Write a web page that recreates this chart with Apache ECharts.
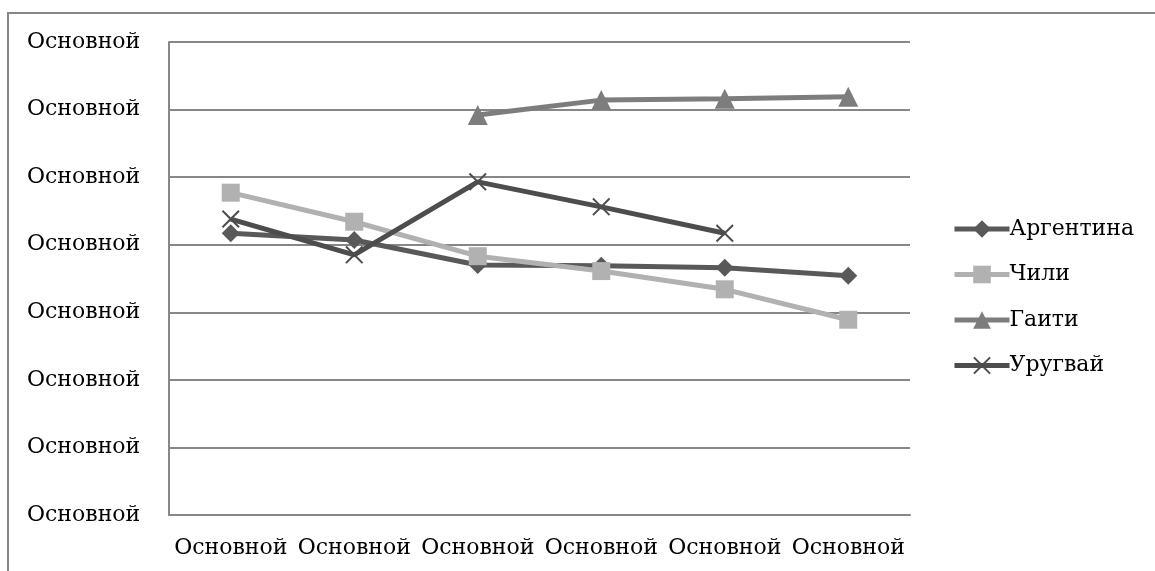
<!DOCTYPE html>
<html><head><meta charset="utf-8">
<script src="https://cdn.jsdelivr.net/npm/echarts@6/dist/echarts.min.js"></script>
<style>html,body{margin:0;padding:0;background:#fff}#c{width:1155px;height:571px}</style>
</head><body><div id="c"></div>
<script>
const xLabels = ['Основной','Основной','Основной','Основной','Основной','Основной'];
const yLabels = ['Основной','Основной','Основной','Основной','Основной','Основной','Основной','Основной'];
const seriesNames = ['Аргентина','Чили','Гаити','Уругвай'];
const argentina = [4.17, 4.07, 3.70, 3.69, 3.66, 3.54];
const chile = [4.77, 4.34, 3.83, 3.61, 3.34, 2.89];
const haiti = [null, null, 5.92, 6.14, 6.16, 6.19];
const uruguay = [4.38, 3.85, 4.93, 4.56, 4.17, null];

const FONT = 'DejaVu Serif';
const FS = 22;
const cross = 'path://M0,1.6L1.6,0L10,8.4L18.4,0L20,1.6L11.6,10L20,18.4L18.4,20L10,11.6L1.6,20L0,18.4L8.4,10Z';
const chart = echarts.init(document.getElementById('c'));
const cats = xLabels.map((_, i) => String(i));
function mk(name, data, color, symbol, size) {
  return {
    name, type: 'line', data, symbol, symbolSize: size, showSymbol: true,
    connectNulls: false, animation: false,
    lineStyle: { color, width: 5 }, itemStyle: { color },
    emphasis: { disabled: true }
  };
}
chart.setOption({
  animation: false,
  grid: { left: 169, top: 42, right: 245, bottom: 56, containLabel: false },
  graphic: [{ type: 'rect', shape: { x: 8, y: 13, width: 1200, height: 600 },
    style: { fill: 'none', stroke: '#878787', lineWidth: 2 }, silent: true, z: -1 }],
  legend: {
    orient: 'vertical', left: 947, top: 213, itemWidth: 55, itemHeight: 22, itemGap: 23.5,
    lineStyle: { width: 5 },
    textStyle: { fontFamily: FONT, fontSize: FS, color: '#000', padding: [0, 0, 0, -5] },
    data: seriesNames
  },
  xAxis: {
    type: 'category', data: cats, boundaryGap: true,
    axisLine: { lineStyle: { color: '#878787', width: 2 } },
    axisTick: { show: false },
    axisLabel: { interval: 0, margin: 22, fontFamily: FONT, fontSize: FS, color: '#000',
      formatter: (v, i) => xLabels[i] }
  },
  yAxis: {
    type: 'value', min: 0, max: 7, interval: 1,
    axisLine: { show: true, lineStyle: { color: '#878787', width: 2 } },
    axisTick: { show: false },
    splitLine: { lineStyle: { color: '#878787', width: 2 } },
    axisLabel: { align: 'left', margin: 142, fontFamily: FONT, fontSize: FS, color: '#000',
      formatter: (v) => yLabels[Math.round(v)] }
  },
  series: [
    mk(seriesNames[0], argentina, '#595959', 'diamond', 18),
    mk(seriesNames[1], chile, '#b1b1b1', 'rect', 18),
    mk(seriesNames[2], haiti, '#7d7d7d', 'triangle', 20),
    mk(seriesNames[3], uruguay, '#4d4d4d', cross, 18)
  ]
});
</script></body></html>
